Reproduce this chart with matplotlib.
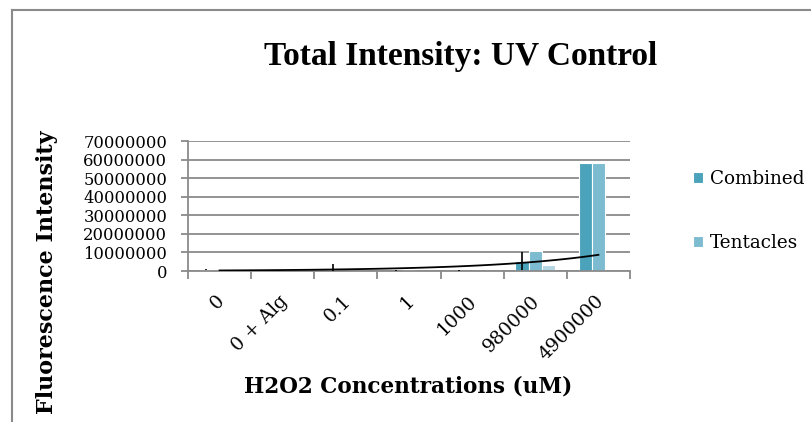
import numpy as np
import matplotlib
matplotlib.use('Agg')
import matplotlib.pyplot as plt
import matplotlib.transforms as mtransforms
from matplotlib.lines import Line2D

# H2O2 concentration groups (uM)
categories = ['0', '0 + Alg', '0.1', '1', '1000', '980000', '4900000']

# fluorescence intensity
combined = [800000, 200000, 400000, 100000, 200000, 5400000, 58000000]
combined_err = [500000, 400000, 3500000, 200000, 200000, 4600000, 0]
tentacles = [1200000, 600000, 1000000, 300000, 200000, 10800000, 58000000]
third = [0, 0, 0, 0, 0, 3200000, 0]

plt.rcParams['font.family'] = ['DejaVu Serif']

fig = plt.figure(figsize=(8.11, 4.22), dpi=100)
ax = fig.add_axes([188 / 811, 1 - 271 / 422, 442 / 811, 130 / 422])

x = np.arange(len(categories))
w = 0.21
ax.bar(x - w, combined, w, color='#4aa3bb', edgecolor='white', linewidth=0.8,
       label='Combined', zorder=2)
ax.errorbar(x - w, combined, yerr=combined_err, fmt='none', ecolor='black',
            elinewidth=1.2, capsize=0, zorder=4)
ax.bar(x, tentacles, w, color='#7dbbd1', edgecolor='white', linewidth=0.8,
       label='Tentacles', zorder=2)
ax.bar(x + w, third, w, color='#b5d7e3', edgecolor='white', linewidth=0.8,
       zorder=2)

# exponential trendline on the Tentacles series (positions 1..7)
pos = np.arange(1, len(tentacles) + 1)
b, a = np.polyfit(pos, np.log(tentacles), 1)
xs = np.linspace(1, len(tentacles), 100)
ax.plot(xs - 1, np.exp(a + b * xs), color='black', lw=1.3, zorder=3)

ax.set_xlim(-0.5, len(categories) - 0.5)
ax.set_ylim(0, 70000000)
ax.set_yticks(np.arange(0, 70000001, 10000000))
ax.set_yticklabels([f'{int(v)}' for v in np.arange(0, 70000001, 10000000)],
                   fontsize=11.8)
ax.yaxis.grid(True, color='#8a8a8a', lw=1.3, zorder=0)
ax.set_axisbelow(True)

ax.set_xticks(x)
ax.set_xticklabels(categories, rotation=45, ha='right', va='top',
                   rotation_mode='anchor', fontsize=13.5)
ax.set_xticks(np.arange(-0.5, len(categories)), minor=True)
ax.tick_params(axis='x', which='major', length=0, pad=15)
ax.tick_params(axis='x', which='minor', length=6, color='#8a8a8a', width=1.3)
ax.tick_params(axis='y', length=5, color='#8a8a8a', width=1.3, pad=10)

# nudge the rotated labels a little to the left
shift = mtransforms.ScaledTranslation(-4 / 100, 0, fig.dpi_scale_trans)
for lbl in ax.get_xticklabels():
    lbl.set_transform(lbl.get_transform() + shift)

for s in ['top', 'right']:
    ax.spines[s].set_visible(False)
for s in ['left', 'bottom']:
    ax.spines[s].set_color('#8a8a8a')
    ax.spines[s].set_linewidth(1.3)

fig.text(461 / 811, 1 - 57 / 422, 'Total Intensity: UV Control', ha='center',
         va='center', fontsize=24, fontweight='bold',
         family=['Liberation Serif', 'DejaVu Serif'])
fig.text(47 / 811, 1 - 272 / 422, 'Fluorescence Intensity', rotation=90,
         ha='center', va='center', fontsize=16, fontweight='bold')
fig.text(408 / 811, 1 - 387 / 422, 'H2O2 Concentrations (uM)', ha='center',
         va='center', fontsize=15.5, fontweight='bold')

ax.legend(loc='center left', bbox_to_anchor=(680 / 811, 1 - 211 / 422),
          bbox_transform=fig.transFigure, frameon=False, fontsize=13.2,
          handlelength=0.55, handleheight=0.55, handletextpad=0.4,
          labelspacing=2.5, borderpad=0.2)

# chart frame (left and top edges)
frame_col = '#8a8a8a'
fig.add_artist(Line2D([12 / 811, 12 / 811], [0, 1 - 10 / 422],
                      color=frame_col, lw=1.5, transform=fig.transFigure))
fig.add_artist(Line2D([12 / 811, 1], [1 - 10 / 422, 1 - 10 / 422],
                      color=frame_col, lw=1.5, transform=fig.transFigure))

fig.savefig('out.png', dpi=100)
